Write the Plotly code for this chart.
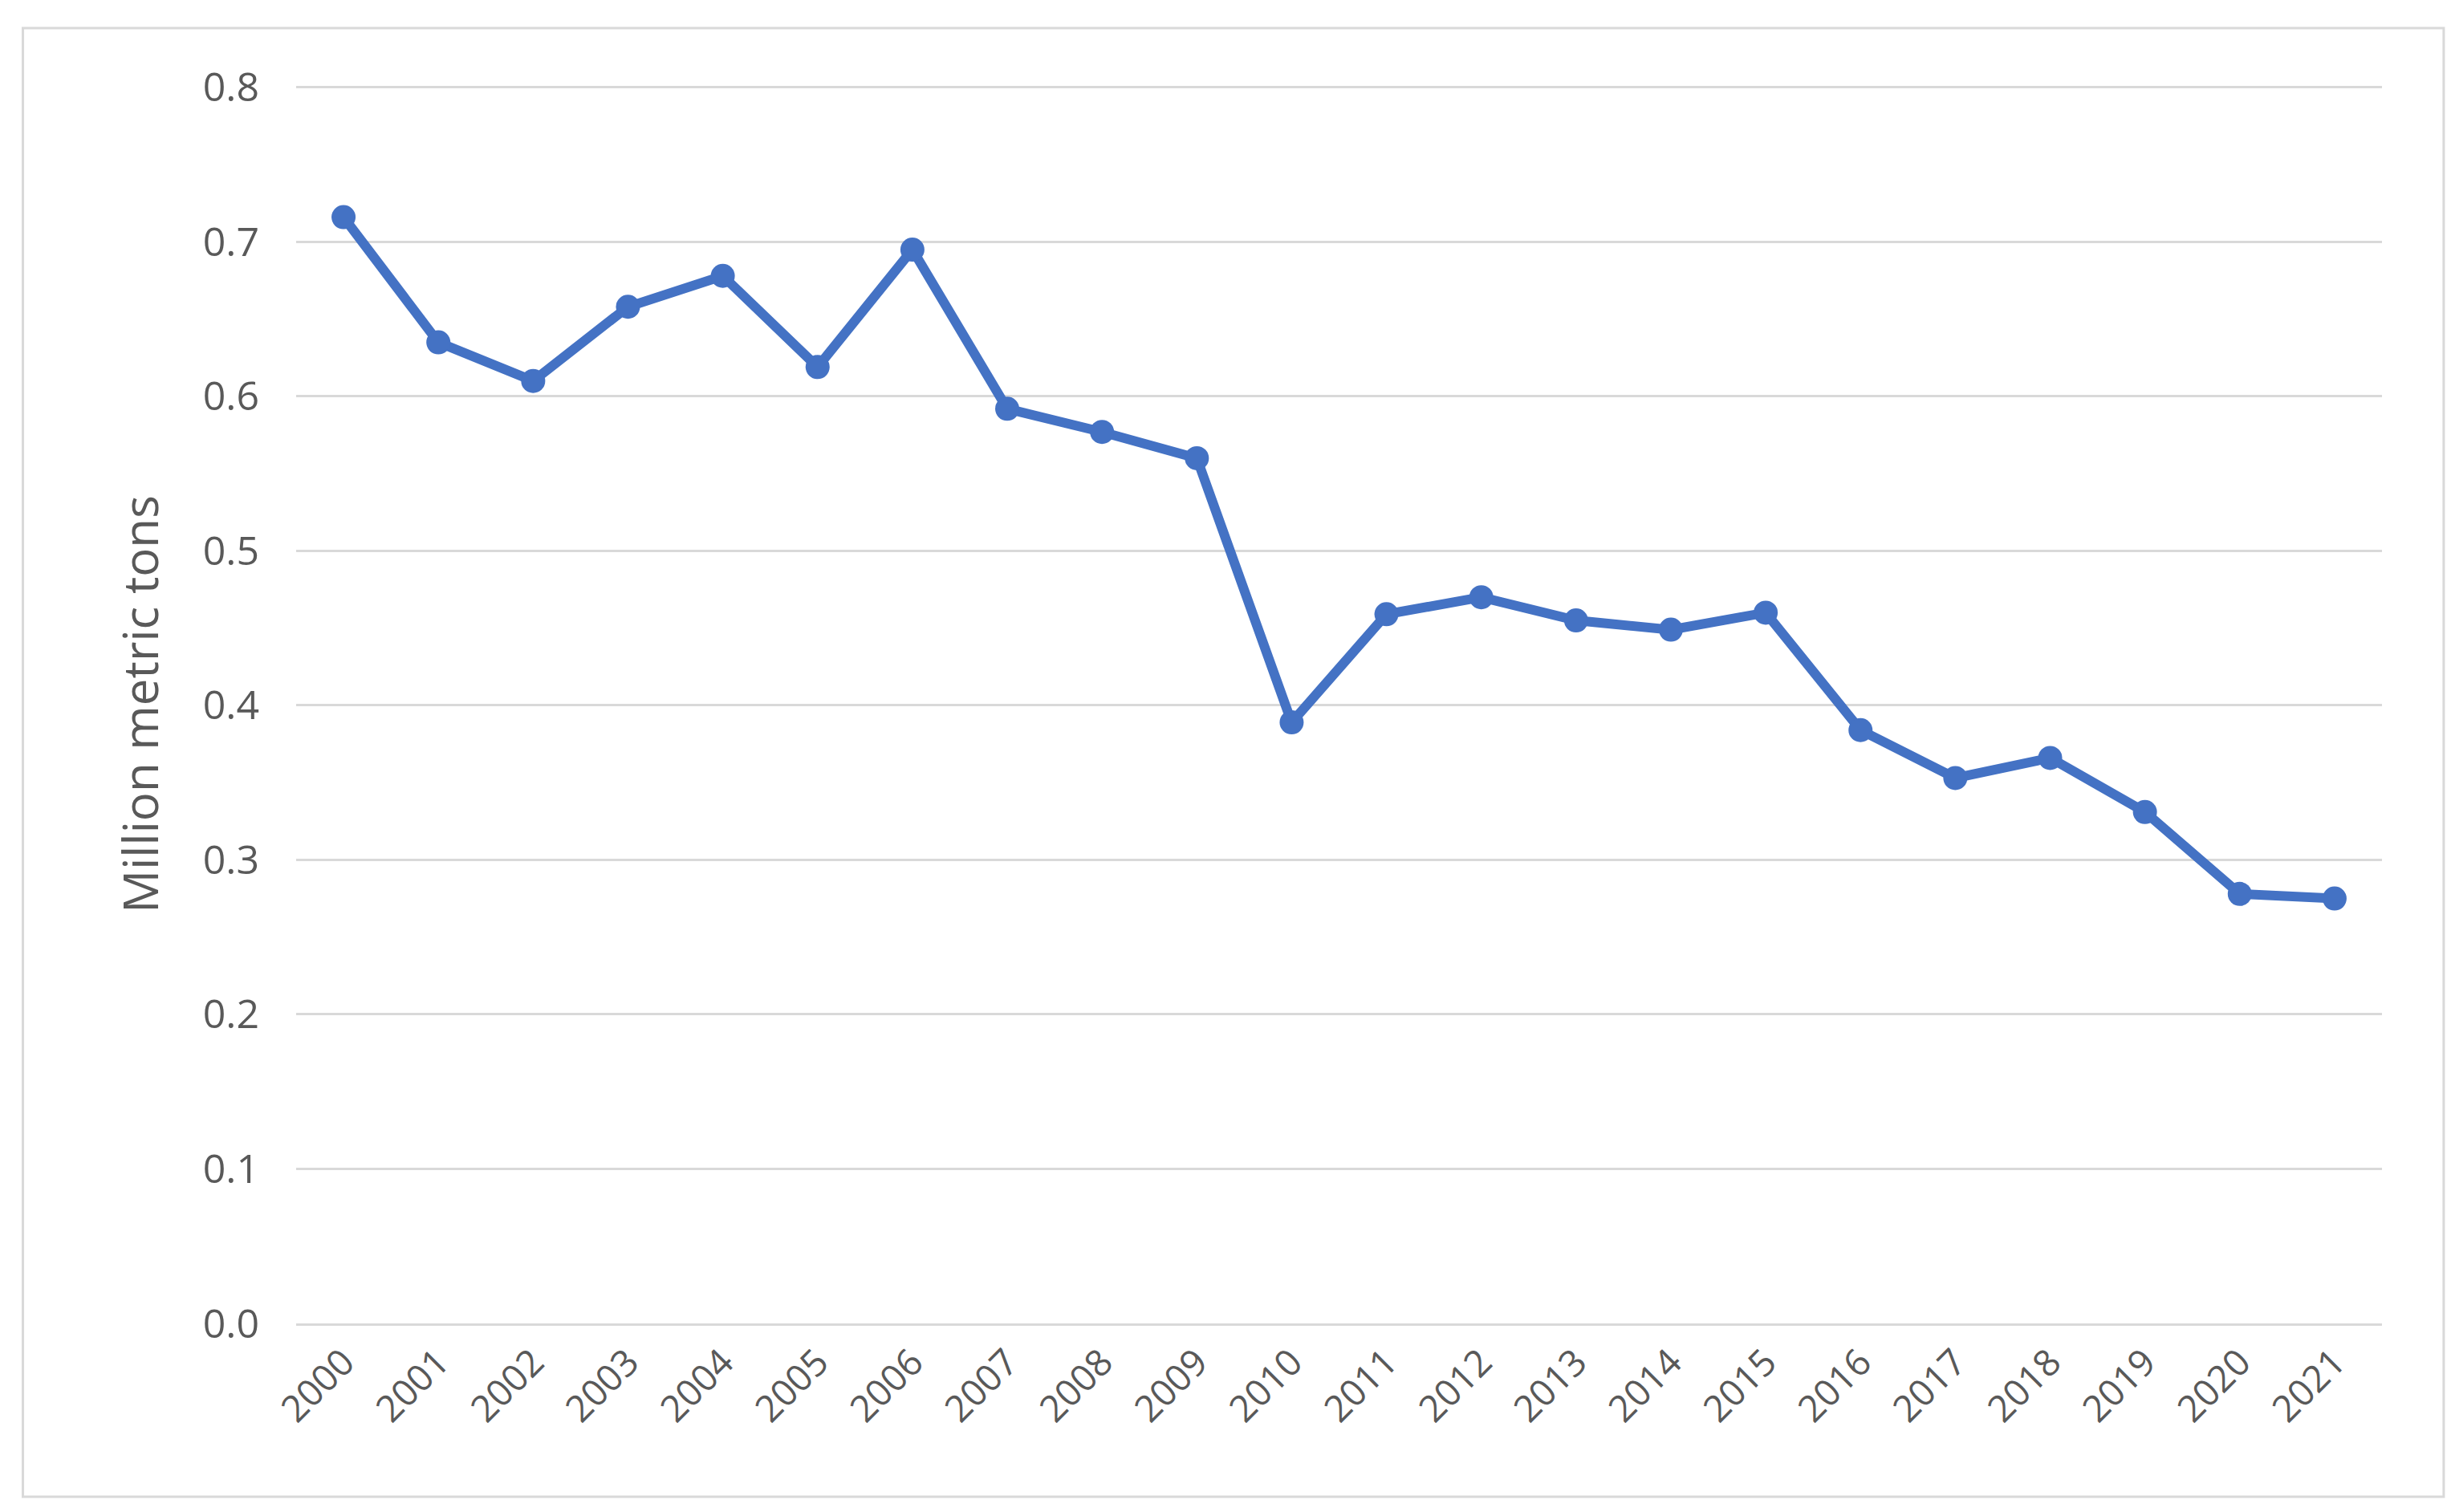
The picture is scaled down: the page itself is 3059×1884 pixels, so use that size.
import plotly.graph_objects as go

years = [str(y) for y in range(2000, 2022)]
tons = [0.716, 0.635, 0.610, 0.658, 0.678, 0.619, 0.695, 0.592, 0.577, 0.560, 0.389,
        0.459, 0.470, 0.455, 0.449, 0.460, 0.384, 0.353, 0.366, 0.331, 0.278, 0.275]
y_ticks = [0.0, 0.1, 0.2, 0.3, 0.4, 0.5, 0.6, 0.7, 0.8]

grey = "#595959"

fig = go.Figure(go.Scatter(
    x=years, y=tons, mode="lines+markers",
    line=dict(color="#4472c4", width=12),
    marker=dict(color="#4472c4", size=30),
))

fig.update_layout(
    width=3059, height=1884,
    margin=dict(l=361, r=99, t=98, b=243),
    plot_bgcolor="white", paper_bgcolor="white",
    font=dict(family="Open Sans", size=50, color=grey),
    showlegend=False,
    shapes=[dict(type="rect", xref="paper", yref="paper",
                 x0=-0.131, x1=1.0296, y0=-0.140, y1=1.046,
                 line=dict(color="#d9d9d9", width=3))],
)
fig.update_xaxes(type="category", tickangle=-45, showgrid=False,
                 range=[-0.5, 21.5],
                 showline=True, linecolor="#d9d9d9", linewidth=3,
                 tickfont=dict(size=46))
fig.update_yaxes(range=[0, 0.8015], tickvals=y_ticks, tickformat=".1f",
                 showgrid=True, gridcolor="#d9d9d9", gridwidth=3,
                 zeroline=False, ticklabelstandoff=45,
                 title=dict(text="Million metric tons", standoff=35))

fig.write_html("out.html")
